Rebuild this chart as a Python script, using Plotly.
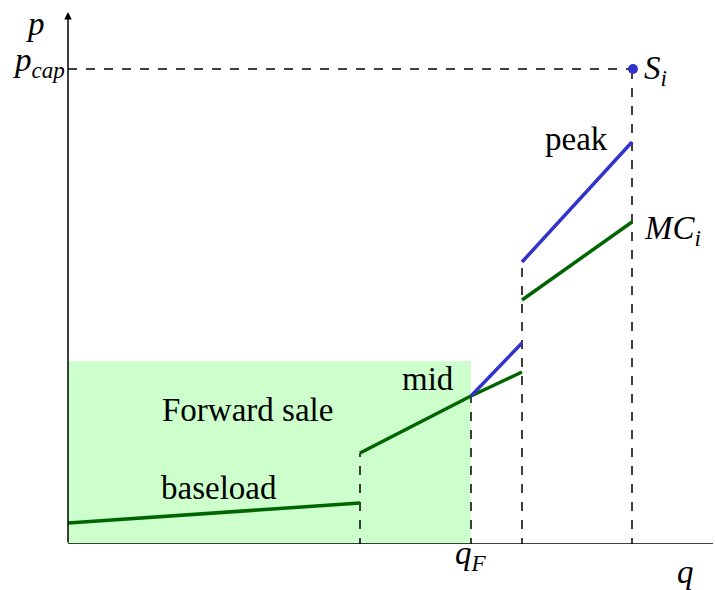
import plotly.graph_objects as go

# quantities (q axis units) and prices (p axis units)
q_base = [0, 292]
p_base = [21, 41]
q_mid = [292, 403, 454]
p_mid_mc = [91, 148, 172]
q_mid_blue = [403, 454]
p_mid_blue = [148, 201]
q_peak = [454, 564]
p_peak_mc = [244, 322]
p_peak_blue = [282, 402]
q_F = 403
p_forward = 183
p_cap = 475
q_cap = 565
q_max = 645
p_max = 532

# dashed verticals: (q, top p)
dash_q = [292, 403, 454, 564]
dash_top = [91, 148, 282, 475]

GREEN = "#006400"
BLUE = "#3333cc"
FONT = "Liberation Serif"
FS = 33

fig = go.Figure()
fig.add_trace(go.Scatter(x=q_base, y=p_base, mode="lines", line=dict(color=GREEN, width=3.5)))
fig.add_trace(go.Scatter(x=q_mid, y=p_mid_mc, mode="lines", line=dict(color=GREEN, width=3.5)))
fig.add_trace(go.Scatter(x=q_mid_blue, y=p_mid_blue, mode="lines", line=dict(color=BLUE, width=3.5)))
fig.add_trace(go.Scatter(x=q_peak, y=p_peak_mc, mode="lines", line=dict(color=GREEN, width=3.5)))
fig.add_trace(go.Scatter(x=q_peak, y=p_peak_blue, mode="lines", line=dict(color=BLUE, width=3.5)))
fig.add_trace(go.Scatter(x=[q_cap], y=[p_cap], mode="markers", marker=dict(color=BLUE, size=10)))

shapes = []
shapes.append(dict(type="rect", xref="x", yref="y", x0=0, x1=q_F, y0=0, y1=p_forward,
                   fillcolor="#ccffcc", line=dict(width=0), layer="below"))
for q, top in zip(dash_q, dash_top):
    shapes.append(dict(type="line", xref="x", yref="y", x0=q, x1=q, y0=-3, y1=top,
                       line=dict(color="black", width=1.5, dash="dash"), layer="below"))
shapes.append(dict(type="line", xref="x", yref="y", x0=0, x1=q_cap, y0=p_cap, y1=p_cap,
                   line=dict(color="black", width=1.5, dash="dash"), layer="below"))
# q axis
shapes.append(dict(type="line", xref="x", yref="y", x0=0, x1=q_max, y0=0, y1=0,
                   line=dict(color="black", width=1.5)))

annotations = [
    # p axis with arrow
    dict(x=0, y=p_max, ax=0, ay=0, xref="x", yref="y", axref="x", ayref="y",
         showarrow=True, arrowhead=2, arrowsize=1, arrowwidth=1.5, arrowcolor="black", text=""),
]


def txt(q, p, s, xanchor="center"):
    annotations.append(dict(
        x=q / q_max, y=p / p_max, xref="paper", yref="paper", text=s, showarrow=False,
        xanchor=xanchor, yanchor="middle",
        font=dict(family=FONT, size=FS, color="black")))


txt(-33, 520, "<i>p</i>")
txt(-57, 482, "<i>p<sub>cap</sub></i>", xanchor="left")
txt(574, 473, "<i>S<sub>i</sub></i>", xanchor="left")
txt(508, 405, "peak")
txt(574, 314, "<i>MC<sub>i</sub></i>", xanchor="left")
txt(360, 165, "mid")
txt(179.5, 134, "Forward sale")
txt(151, 56, "baseload")
txt(385, -11, "<i>q<sub>F</sub></i>", xanchor="left")
txt(617, -28, "<i>q</i>")

fig.update_layout(
    width=715, height=590,
    margin=dict(l=68, r=2, t=12, b=46),
    plot_bgcolor="white", paper_bgcolor="white",
    showlegend=False,
    xaxis=dict(range=[0, q_max], visible=False, fixedrange=True),
    yaxis=dict(range=[0, p_max], visible=False, fixedrange=True),
    shapes=shapes, annotations=annotations,
)
fig.update_traces(cliponaxis=False)
fig.write_html("out.html", config={"displayModeBar": False},
               post_script="document.body.style.margin='0';document.body.style.overflow='hidden';")
